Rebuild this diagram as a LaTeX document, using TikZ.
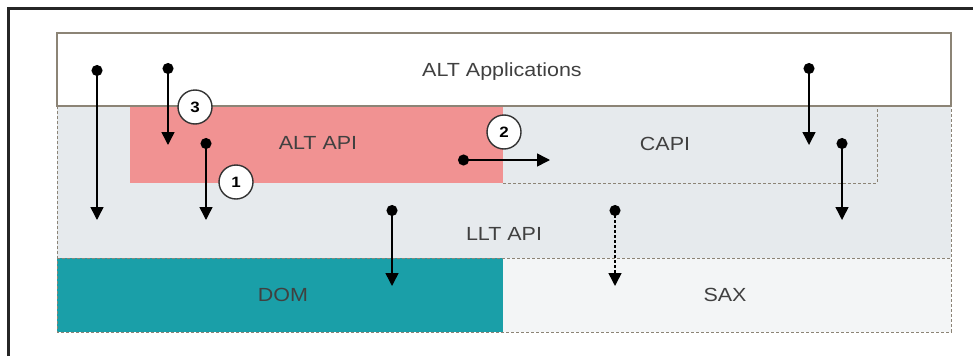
\documentclass[tikz,border=0pt]{standalone}
\usepackage{fontspec}
\setmainfont{Liberation Sans}[FakeStretch=1.13]
\usetikzlibrary{arrows.meta,positioning}

\definecolor{lltgray}{RGB}{230,234,237}
\definecolor{altred}{RGB}{241,146,146}
\definecolor{domteal}{RGB}{26,159,168}
\definecolor{saxwhite}{RGB}{243,245,246}
\definecolor{edgebrown}{RGB}{140,132,118}

\begin{document}
\begin{tikzpicture}[x=1pt,y=-1pt,
  lbl/.style={font=\fontsize{19}{22}\selectfont, text=black!75},
  flow/.style={line width=1.5pt, {Circle[length=11pt,width=11pt]}-{Triangle[length=13pt,width=13pt]}},
  num/.style={circle, draw=black!80, line width=1.4pt, fill=white, inner sep=0pt,
    minimum size=34pt, font=\bfseries\fontsize{15}{15}\selectfont},
  seam/.style={densely dashed, edgebrown, line width=0.8pt}]
  \useasboundingbox (0,0) rectangle (973,356);
  % layers
  \fill[lltgray] (57,106) rectangle (951,258);
  \fill[altred] (130,106) rectangle (503,183);
  \fill[domteal] (57,258) rectangle (503,332);
  \fill[saxwhite] (503,258) rectangle (951,332);
  \draw[edgebrown, line width=1.5pt, fill=white] (57,33) rectangle (951,106);
  \draw[seam] (57,106) -- (57,332) -- (951,332) -- (951,106);
  \draw[seam] (57,258) -- (951,258);
  \draw[seam] (503,183) -- (877,183) -- (877,106);
  % outer frame
  \draw[line width=2.5pt, black!85] (8.5,356) -- (8.5,8.5) -- (973,8.5);
  % labels
  \node[lbl] (apps) at (502,72) {ALT Applications};
  \node[lbl] (altapi) at (318,143) {ALT API};
  \node[lbl] (capi) at (665,144) {CAPI};
  \node[lbl] (llt) at (504,234) {LLT API};
  \node[lbl] (dom) at (283,295) {DOM};
  \node[lbl] (sax) at (725,295) {SAX};
  % call paths
  \foreach \n/\xa/\ya/\xb/\yb in {a/97/65/97/220, b/168/63/168/145, c/206/138/206/220,
      d/458/160/550/160, e/809/63/809/145, f/842/138/842/220, g/392/205/392/286}{
    \coordinate (s\n) at (\xa,\ya);
    \coordinate (e\n) at (\xb,\yb);
    \draw[flow] (s\n) -- (e\n);
  }
  \coordinate (sh) at (615,205);
  \coordinate (eh) at (615,286);
  \draw[flow, densely dashed] (sh) -- (eh);
  % numbered steps
  \node[num] (one) at (236,182) {1};
  \node[num] (two) at (504,132) {2};
  \node[num] (three) at (195,107) {3};
\end{tikzpicture}
\end{document}
